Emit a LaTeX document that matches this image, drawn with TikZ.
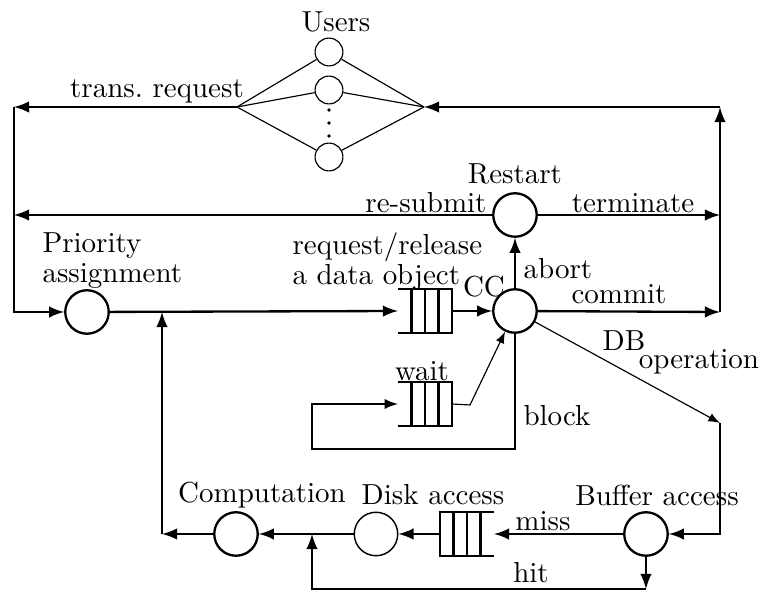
\documentclass[tikz,border=0pt]{standalone}
\usepackage{tikz}
\usepackage{amsmath, amssymb}
\usetikzlibrary{arrows,calc}

\begin{document}
\begin{tikzpicture}[x=0.345pt,y=-0.345pt,>=latex,
    station/.style={circle,draw,line width=0.8pt,minimum size=15pt,inner sep=0pt},
    user/.style={circle,draw,line width=0.4pt,minimum size=9.6pt,inner sep=0pt},
    fifo/.style={rectangle,minimum width=18.3pt,minimum height=14.5pt,inner sep=0pt},
    flow/.style={line width=0.8pt},
    thinflow/.style={line width=0.4pt}]

  \useasboundingbox (0,0) rectangle (761,593);

  % users
  \node[user] (u1) at (329,52) {};
  \node[user] (u2) at (329,90) {};
  \node[user] (u3) at (329,157) {};
  \foreach \y in {110,123,136}{
    \fill (329,\y) circle (1.8);
  }
  \node (lusers) at (336,22) {Users};
  \coordinate (uout) at (237,107);
  \coordinate (uin) at (424,107);
  \foreach \u in {u1,u2,u3}{
    \draw[thinflow] (uout) -- (\u);
    \draw[thinflow] (\u) -- (uin);
  }

  % stations
  \node[station] (prio) at (87,312) {};
  \node[station] (cc) at (515,311) {};
  \node[station] (restart) at (515,215) {};
  \node[station] (buffer) at (646,534) {};
  \node[station,line width=0.5pt] (disk) at (376,534) {};
  \node[station] (comp) at (236,534) {};

  % queues
  \node[fifo] (q1) at (425,311) {};
  \node[fifo] (q2) at (425,404) {};
  \node[fifo] (q3) at (467,534) {};
  \foreach \q/\a/\b in {q1/west/east,q2/west/east,q3/east/west}{
    \draw[line width=0.75pt] (\q.north \a) -- (\q.north \b) -- (\q.south \b) -- (\q.south \a);
    \foreach \f in {0.25,0.5,0.75}
      \draw[line width=0.75pt] ($(\q.north west)!\f!(\q.north east)$) -- ($(\q.south west)!\f!(\q.south east)$);
  }

  % corners
  \coordinate (tl) at (14,107);
  \coordinate (tr) at (720,107);
  \coordinate (rsub) at (14,215);
  \coordinate (term) at (720,215);
  \coordinate (cmt) at (720,312);
  \coordinate (feed) at (162,312);
  \coordinate (back) at (162,534);
  \coordinate (dbop) at (720,423);
  \coordinate (blk) at (312,449);
  \coordinate (wout) at (470,405);
  \coordinate (hitr) at (646,589);
  \coordinate (hitl) at (312,589);
  \coordinate (hitj) at (312,534);

  % connectors
  \draw[flow,->] (uout) -- (tl);
  \draw[flow,->] (tl) |- (prio);
  \draw[flow,->] (tr) -- (uin);
  \draw[flow,->] (cmt) -- (tr);
  \draw[flow,->] (restart) -- (rsub);
  \draw[flow,->] (restart) -- (term);
  \draw[flow,->] (prio) -- (q1.west);
  \draw[flow,->] (q1) -- (cc);
  \draw[flow,->] (cc) -- (restart);
  \draw[flow,->] (cc) -- (cmt);
  \draw[thinflow,->] (cc) -- (dbop);
  \draw[flow,->] (dbop) |- (buffer);
  \draw[line width=0.6pt,->] (cc) |- (blk) |- (q2.west);
  \draw[thinflow,->] (q2.east) -- (wout) -- (cc);
  \draw[flow,->] (buffer) -- (q3.east);
  \draw[flow,->] (q3.west) -- (disk);
  \draw[flow,->] (disk) -- (comp);
  \draw[flow,->] (comp) -- (back);
  \draw[flow,->] (back) -- (feed);
  \draw[flow,->] (buffer) -- (hitr);
  \draw[flow,->] (hitr) -- (hitl) -- (hitj);

  % labels
  \node (lrequest) at (157,91) {trans.\ request};
  \node (lrestart) at (515,174) {Restart};
  \node (lresub) at (426,203) {re-submit};
  \node (lterm) at (633,203) {terminate};
  \node[align=left,anchor=north west,inner sep=0pt] (lprio) at (42,232) {Priority\\[-1.6pt]assignment};
  \node[align=left,anchor=north west,inner sep=0pt] (lobj) at (292,232) {request/release\\[-1.6pt]a data object};
  \node (lcc) at (484,287) {CC};
  \node[inner sep=0.5pt] (ldb) at (624,341) {DB};
  \node[inner sep=0.5pt] (loper) at (699,362) {operation};
  \node (labort) at (558,269) {abort};
  \node (lcommit) at (619,294) {commit};
  \node (lwait) at (422,371) {wait};
  \node (lblock) at (557,416) {block};
  \node (lcomp) at (262,495) {Computation};
  \node (ldisk) at (433,495) {Disk access};
  \node (lbuffer) at (657,495) {Buffer access};
  \node (lmiss) at (543,521) {miss};
  \node (lhit) at (531,573) {hit};
\end{tikzpicture}
\end{document}
